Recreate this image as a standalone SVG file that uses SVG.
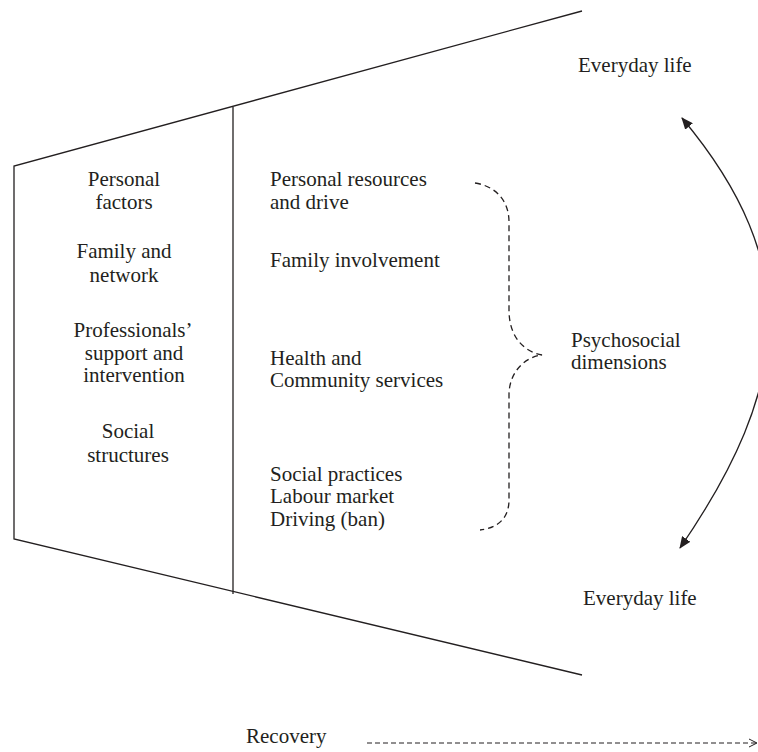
<svg xmlns="http://www.w3.org/2000/svg" width="758" height="752" viewBox="0 0 758 752">
<style>
text{font-family:"Liberation Serif","Times New Roman",serif;font-size:21px;fill:#231f20}
.c{text-anchor:middle}
.ln{fill:none;stroke:#231f20;stroke-width:1.3}
.dash{fill:none;stroke:#231f20;stroke-width:1.3;stroke-dasharray:6 4}
.dash2{fill:none;stroke:#231f20;stroke-width:1;stroke-dasharray:5 3}
</style>
<defs>
<marker id="ah" viewBox="0 0 12 10" refX="11" refY="5" markerWidth="12" markerHeight="10" markerUnits="userSpaceOnUse" orient="auto-start-reverse">
<path d="M0,0 L12,5 L0,10 Z" fill="#231f20"/>
</marker>
<marker id="oa" viewBox="0 0 10 10" refX="9" refY="5" markerWidth="10" markerHeight="10" markerUnits="userSpaceOnUse" orient="auto">
<path d="M1,1 L9,5 L1,9" fill="none" stroke="#231f20" stroke-width="1"/>
</marker>
</defs>
<rect width="758" height="752" fill="#fff"/>
<g id="funnel">
<path class="ln" d="M582,11 L14,166 L14,539 L582,675"/>
<path class="ln" d="M233,107 L233,594"/>
</g>
<g id="left-column">
<text class="c" x="124" y="186">Personal</text>
<text class="c" x="124" y="209">factors</text>
<text class="c" x="124" y="258">Family and</text>
<text class="c" x="124" y="282">network</text>
<text class="c" x="133" y="337">Professionals’</text>
<text class="c" x="134" y="360">support and</text>
<text class="c" x="134" y="382">intervention</text>
<text class="c" x="128" y="438">Social</text>
<text class="c" x="128" y="462">structures</text>
</g>
<g id="right-column">
<text x="270" y="186">Personal resources</text>
<text x="270" y="209">and drive</text>
<text x="270" y="267">Family involvement</text>
<text x="270" y="365">Health and</text>
<text x="270" y="387">Community services</text>
<text x="270" y="481">Social practices</text>
<text x="270" y="503">Labour market</text>
<text x="270" y="526">Driving (ban)</text>
</g>
<g id="psychosocial">
<text x="571" y="347">Psychosocial</text>
<text x="571" y="369">dimensions</text>
</g>
<g id="everyday-top"><text x="578" y="72">Everyday life</text></g>
<g id="everyday-bottom"><text x="583" y="605">Everyday life</text></g>
<g id="recovery"><text x="246" y="743">Recovery</text></g>
<g id="connectors">
<path class="dash" d="M475,183 C495,186 509,200 509,222 L509,310 C509,338 525,352 542,355 C525,357 509,372 509,395 L509,500 C509,518 498,528 480,530"/>
<path class="ln" d="M682,118 C805,265 791,386 680,548" marker-start="url(#ah)" marker-end="url(#ah)"/>
<path class="dash2" d="M367,743 L757,743" marker-end="url(#oa)"/>
</g>
</svg>
